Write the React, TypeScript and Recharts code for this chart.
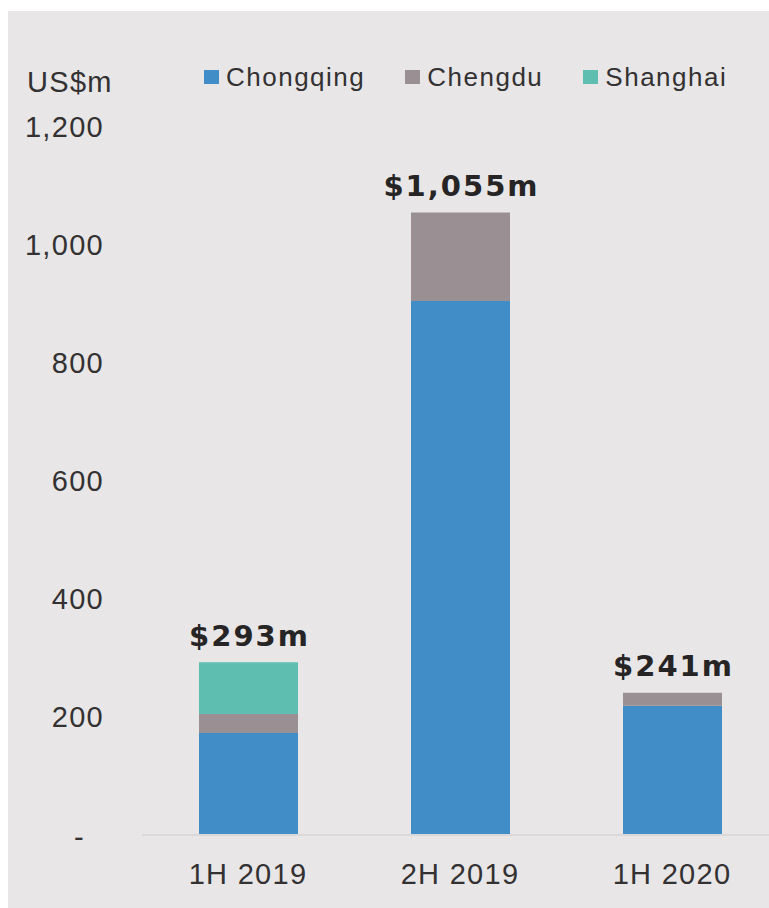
import React from "react";
import { BarChart, Bar, XAxis, YAxis, Legend, LabelList } from "recharts";

// half-year periods and city contributions, US$m
const periods = ["1H 2019", "2H 2019", "1H 2020"];
const chongqing = [173, 905, 219];
const chengdu = [32, 150, 22];
const shanghai = [88, 0, 0];
const yTicks = [0, 200, 400, 600, 800, 1000, 1200];

const series = [
  { key: "chongqing", name: "Chongqing", color: "#418dc7" },
  { key: "chengdu", name: "Chengdu", color: "#9a8f92" },
  { key: "shanghai", name: "Shanghai", color: "#5ebeb0" },
];

const data = periods.map((p, i) => ({
  period: p,
  chongqing: chongqing[i],
  chengdu: chengdu[i],
  shanghai: shanghai[i],
  total: chongqing[i] + chengdu[i] + shanghai[i],
}));

// index of the topmost non-empty segment in each stack
const topSeries = data.map((d) => {
  let top = 0;
  series.forEach((s, i) => {
    if ((d as any)[s.key] > 0) top = i;
  });
  return top;
});

const FONT = '"Liberation Sans", Arial, sans-serif';
const TEXT = "#333132";

const YTick = (props: any) => {
  const { x, y, payload } = props;
  const v = payload.value as number;
  const isZero = v === 0;
  return (
    <text
      x={isZero ? x - 19 : x}
      y={y}
      dy={isZero ? "0.42em" : "0.33em"}
      textAnchor="end"
      fill={TEXT}
      fontFamily={FONT}
      fontSize={29}
      letterSpacing={1.3}
    >
      {isZero ? "-" : v.toLocaleString("en-US")}
    </text>
  );
};

const makeTotalLabel = (seriesIndex: number) => (props: any) => {
  const { x, y, width, index } = props;
  if (topSeries[index] !== seriesIndex) return null;
  const total = data[index].total;
  return (
    <text
      x={x + width / 2 + 1}
      y={y - 27}
      dy="0.36em"
      textAnchor="middle"
      fill="#262425"
      fontFamily='"DejaVu Sans", Verdana, sans-serif'
      fontWeight={700}
      fontSize={29}
      letterSpacing={2}
    >
      {`$${total.toLocaleString("en-US")}m`}
    </text>
  );
};

const renderLegend = () => (
  <div style={{ display: "flex", alignItems: "center", height: 32, paddingLeft: 196 }}>
    {series.map((s) => (
      <div key={s.key} style={{ display: "flex", alignItems: "center", marginRight: 40 }}>
        <span style={{ width: 15, height: 14, background: s.color, marginRight: 7 }} />
        <span
          style={{
            fontFamily: FONT,
            fontSize: 26,
            letterSpacing: 1.5,
            lineHeight: "32px",
            color: TEXT,
          }}
        >
          {s.name}
        </span>
      </div>
    ))}
  </div>
);

export default function App() {
  return (
    <div
      style={{
        position: "absolute",
        left: 8,
        top: 11,
        width: 761,
        height: 897,
        overflow: "hidden",
        background: "#e8e6e7",
      }}
    >
      <BarChart
        width={770}
        height={897}
        data={data}
        margin={{ top: 116, right: 0, bottom: 0, left: 0 }}
        barSize={99}
      >
        <XAxis
          dataKey="period"
          height={73}
          tickSize={0}
          tickMargin={28}
          axisLine={{ stroke: "#dad8d9", strokeWidth: 2 }}
          tick={{ fill: TEXT, fontFamily: FONT, fontSize: 29, letterSpacing: 1.3 }}
        />
        <YAxis
          width={134}
          domain={[0, 1200]}
          ticks={yTicks}
          interval={0}
          axisLine={false}
          tickLine={false}
          tickSize={0}
          tickMargin={38}
          tick={<YTick />}
          label={{
            content: () => (
              <text x={19} y={71} dy="0.36em" fill={TEXT} fontFamily={FONT} fontSize={29} letterSpacing={1.3}>
                US$m
              </text>
            ),
          }}
        />
        <Legend
          layout="horizontal"
          verticalAlign="middle"
          align="center"
          wrapperStyle={{ top: 50, left: 0, width: 761 }}
          content={renderLegend}
        />
        {series.map((s, i) => (
          <Bar
            key={s.key}
            dataKey={s.key}
            name={s.name}
            stackId="a"
            fill={s.color}
            isAnimationActive={false}
          >
            {i > 0 && <LabelList dataKey="total" content={makeTotalLabel(i)} />}
          </Bar>
        ))}
      </BarChart>
    </div>
  );
}
